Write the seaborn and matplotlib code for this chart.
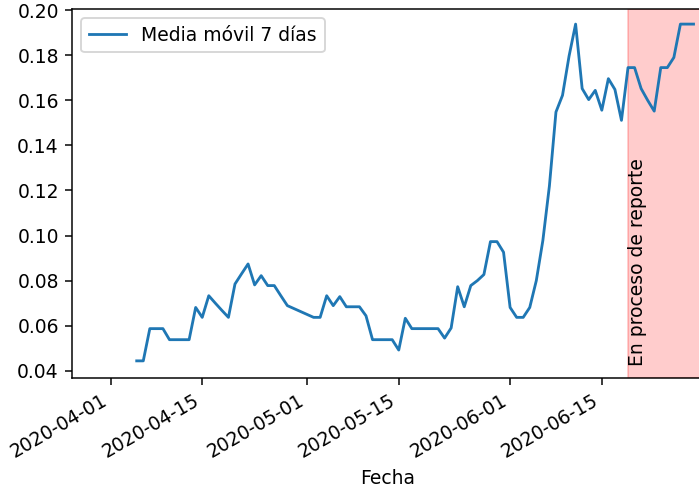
import pandas as pd
import numpy as np
import seaborn as sns
import matplotlib.pyplot as plt
import matplotlib.dates as mdates

# 7-day moving average, one value per day
fecha_inicio = '2020-04-05'
media_movil = [0.0444, 0.0444, 0.0587, 0.0587, 0.0587, 0.0538, 0.0538, 0.0538, 0.0538, 0.0681,
               0.0637, 0.0733, 0.0700, 0.0668, 0.0637, 0.0785, 0.0830, 0.0874, 0.0781, 0.0822,
               0.0778, 0.0778, 0.0733, 0.0689, 0.0676, 0.0663, 0.0650, 0.0637, 0.0637, 0.0733,
               0.0689, 0.0729, 0.0684, 0.0684, 0.0684, 0.0644, 0.0538, 0.0538, 0.0538, 0.0538,
               0.0492, 0.0633, 0.0587, 0.0587, 0.0587, 0.0587, 0.0587, 0.0545, 0.0590, 0.0773,
               0.0684, 0.0778, 0.0800, 0.0827, 0.0973, 0.0973, 0.0926, 0.0681, 0.0637, 0.0637,
               0.0681, 0.0800, 0.0978, 0.1220, 0.1548, 0.1622, 0.1796, 0.1938, 0.1652, 0.1603,
               0.1644, 0.1556, 0.1696, 0.1648, 0.1511, 0.1745, 0.1745, 0.1652, 0.1600, 0.1552,
               0.1745, 0.1745, 0.1790, 0.1938, 0.1938, 0.1938]
inicio_reporte = '2020-06-19'
fin_reporte = '2020-07-05'

df = pd.DataFrame({'Fecha': pd.date_range(fecha_inicio, periods=len(media_movil), freq='D'),
                   'Media': media_movil})

dpi = 135
fig = plt.figure(figsize=(699 / dpi, 489 / dpi), dpi=dpi)
ax = fig.add_axes([72 / 699, 111 / 489, 632 / 699, 369 / 489])

sns.lineplot(x='Fecha', y='Media', data=df, ax=ax, color='#1f77b4', label='Media móvil 7 días')
ax.axvspan(pd.Timestamp(inicio_reporte), pd.Timestamp(fin_reporte), color='red', alpha=0.2)
ax.text(pd.Timestamp(inicio_reporte), 0.042, 'En proceso de reporte', rotation=90,
        ha='left', va='bottom', fontsize=10)

x0 = mdates.date2num(pd.Timestamp('2020-04-01'))
ax.set_xlim(x0 - 5.88, x0 + 90.6)
ax.set_ylim(0.0368, 0.2005)
ax.xaxis.set_major_locator(mdates.DayLocator(bymonthday=[1, 15]))
ax.xaxis.set_major_formatter(mdates.DateFormatter('%Y-%m-%d'))
plt.setp(ax.get_xticklabels(), rotation=30, ha='right')
ax.set_yticks(np.arange(0.04, 0.201, 0.02))
ax.set_xlabel('Fecha')
ax.set_ylabel('')
ax.legend(loc='upper left')

fig.savefig('out.png', dpi=dpi)
